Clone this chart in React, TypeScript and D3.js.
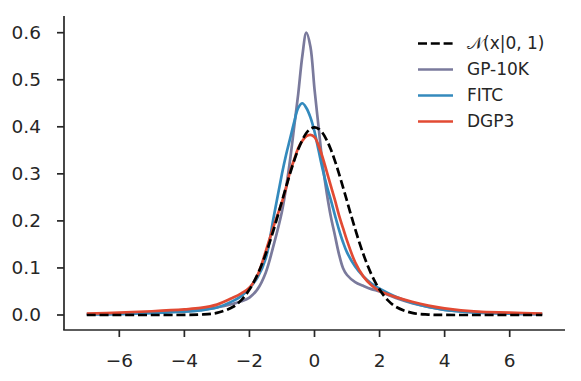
import React from "react";
import { scaleLinear, line, curveCatmullRom } from "d3";

// sample grid shared by all curves
const xs = [-7, -6, -5, -4, -3.5, -3, -2.5, -2.25, -2, -1.75, -1.5, -1.25, -1, -0.875, -0.75, -0.625, -0.5, -0.375, -0.25, -0.125, 0, 0.125, 0.25, 0.375, 0.5, 0.625, 0.75, 0.875, 1, 1.25, 1.5, 1.75, 2, 2.25, 2.5, 3, 3.5, 4, 5, 6, 7];

const normal = [0, 0, 0, 0.0001, 0.0009, 0.0044, 0.0175, 0.0317, 0.054, 0.0863, 0.1295, 0.1826, 0.242, 0.272, 0.3011, 0.3282, 0.3521, 0.3718, 0.3867, 0.3958, 0.3989, 0.3958, 0.3867, 0.3718, 0.3521, 0.3282, 0.3011, 0.272, 0.242, 0.1826, 0.1295, 0.0863, 0.054, 0.0317, 0.0175, 0.0044, 0.0009, 0.0001, 0, 0, 0];

const gp10k = [0.002, 0.003, 0.005, 0.008, 0.011, 0.016, 0.024, 0.029, 0.037, 0.055, 0.09, 0.15, 0.22, 0.27, 0.33, 0.4, 0.47, 0.55, 0.6, 0.57, 0.48, 0.4, 0.32, 0.26, 0.21, 0.17, 0.13, 0.1, 0.085, 0.07, 0.062, 0.055, 0.05, 0.043, 0.036, 0.025, 0.017, 0.011, 0.006, 0.003, 0.002];

const fitc = [0.001, 0.002, 0.004, 0.007, 0.01, 0.016, 0.03, 0.04, 0.057, 0.08, 0.12, 0.21, 0.3, 0.34, 0.375, 0.41, 0.44, 0.45, 0.44, 0.42, 0.39, 0.35, 0.31, 0.275, 0.245, 0.213, 0.182, 0.155, 0.133, 0.103, 0.082, 0.067, 0.056, 0.047, 0.039, 0.026, 0.017, 0.011, 0.005, 0.003, 0.002];

const dgp3 = [0.003, 0.005, 0.008, 0.012, 0.015, 0.022, 0.037, 0.046, 0.058, 0.085, 0.135, 0.19, 0.24, 0.27, 0.305, 0.33, 0.355, 0.37, 0.38, 0.383, 0.378, 0.36, 0.335, 0.305, 0.275, 0.245, 0.213, 0.185, 0.158, 0.112, 0.082, 0.063, 0.051, 0.044, 0.038, 0.028, 0.02, 0.014, 0.007, 0.005, 0.003];

const xTicks = [-6, -4, -2, 0, 2, 4, 6];
const yTicks = [0.0, 0.1, 0.2, 0.3, 0.4, 0.5, 0.6];

const series = [
  { name: "𝒩(x|0, 1)", values: normal, color: "#000000", dash: "9,3.8" },
  { name: "GP-10K", values: gp10k, color: "#7a7a9c", dash: null },
  { name: "FITC", values: fitc, color: "#348abd", dash: null },
  { name: "DGP3", values: dgp3, color: "#e24a33", dash: null },
];

const ink = "#262626";
const font = "'DejaVu Sans', sans-serif";

export default function App() {
  const x = scaleLinear().domain([-7.7, 7.7]).range([64, 565]);
  const y = scaleLinear().domain([-0.0319, 0.6355]).range([330, 16]);

  const path = line<number>()
    .x((d, i) => x(xs[i]))
    .y((d) => y(d))
    .curve(curveCatmullRom.alpha(0.5));

  // draw order: normal last so the dashes sit on top
  const drawOrder = [1, 2, 3, 0];

  return (
    <svg width={581} height={381} style={{ position: "absolute", left: 0, top: 0 }}>
      <rect width={581} height={381} fill="#fff" />
      {drawOrder.map((k) => {
        const s = series[k];
        return (
          <path
            key={s.name}
            d={path(s.values) || ""}
            fill="none"
            stroke={s.color}
            strokeWidth={2.7}
            strokeDasharray={s.dash || undefined}
          />
        );
      })}

      {/* spines */}
      <line x1={64} x2={64} y1={16} y2={330} stroke={ink} strokeWidth={1.7} />
      <line x1={63.2} x2={565} y1={330} y2={330} stroke={ink} strokeWidth={1.7} />

      {yTicks.map((t) => (
        <g key={"y" + t} transform={`translate(64,${y(t)})`}>
          <line x1={-7} x2={0} stroke={ink} strokeWidth={1.7} />
          <text x={-23} dy="0.35em" textAnchor="end" fontFamily={font} fontSize={18.5} fill={ink}>
            {t.toFixed(1)}
          </text>
        </g>
      ))}

      {xTicks.map((t) => (
        <g key={"x" + t} transform={`translate(${x(t)},330)`}>
          <line y1={0} y2={7} stroke={ink} strokeWidth={1.7} />
          <text y={37} textAnchor="middle" fontFamily={font} fontSize={18.5} fill={ink}>
            {t < 0 ? "\u2212" + Math.abs(t) : String(t)}
          </text>
        </g>
      ))}

      {/* legend */}
      {series.map((s, i) => (
        <g key={"leg" + s.name} transform={`translate(418,${43.5 + i * 26})`}>
          <line x1={0} x2={35} stroke={s.color} strokeWidth={2.7} strokeDasharray={s.dash || undefined} />
          <text x={49} dy="0.35em" fontFamily={font} fontSize={17} fill={ink}>
            {s.name}
          </text>
        </g>
      ))}
    </svg>
  );
}
